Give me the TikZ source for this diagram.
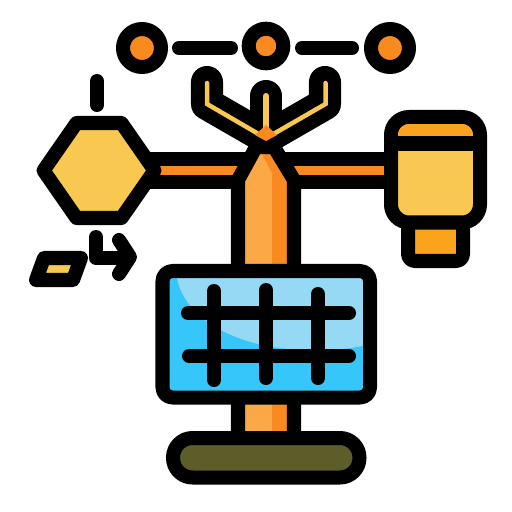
\documentclass[tikz,border=0pt]{standalone}
\definecolor{dorange}{HTML}{F98A1F}
\definecolor{lorange}{HTML}{FBA846}
\definecolor{morange}{HTML}{FBA31C}
\definecolor{yel}{HTML}{F8C850}
\definecolor{sky}{HTML}{36C6F9}
\definecolor{lsky}{HTML}{95D9F5}
\definecolor{olive}{HTML}{5D5D2A}
\tikzset{
  ink/.style={draw=black,line width=0.14cm,line join=round,line cap=round},
  prong/.style={draw=black,line width=0.32cm,line join=round,line cap=round},
  glow/.style={draw=yel,line width=0.045cm,line cap=round,line join=miter},
  dial/.style={ink,fill=dorange}
}
\begin{document}
\begin{tikzpicture}[x=0.01cm,y=-0.01cm]
\useasboundingbox (0,0) rectangle (512,512);
\fill[white] (0,0) rectangle (512,512);
% top circles and links
\draw[dial] (142,48) circle (0.19cm);
\draw[dial] (266,46) circle (0.173cm);
\draw[dial] (390,48) circle (0.19cm);
\draw[ink] (179,48) -- (231,48);
\draw[ink] (302,48) -- (352,48);
% dash above hexagon
\draw[ink] (97,81) -- (97,105);
% arm
\fill[dorange] (150,166) rectangle (395,175);
\draw[ink] (150,159) -- (395,159);
\draw[ink] (150,182) -- (395,182);
% pole
\fill[lorange] (238,440) -- (238,180) -- (256,147) -- (274,147) -- (294,180) -- (294,440) -- cycle;
\fill[dorange] (260,150) -- (272,173) -- (272,440) -- (294,440) -- (294,180) -- (274,147) -- cycle;
\draw[ink] (238,440) -- (238,180) -- (256,147) -- (274,147) -- (294,180) -- (294,440);
% fork
\draw[prong] (207,82) -- (207,104) -- (266,138) -- (325,104) -- (325,82);
\draw[prong] (266,96) -- (266,138);
\draw[glow] (207,83) -- (207,104) -- (262,136);
\draw[glow] (325.5,83) -- (325.5,104) -- (270,136);
\draw[glow,line width=0.06cm] (266,96) -- (266,130);
\fill[dorange] (266,125) -- (255,135) -- (266,141) -- (277,135) -- cycle;
% hexagon
\draw[ink,fill=yel] (43.5,170.5) -- (76.5,123) -- (121.5,123) -- (154.5,170.5) -- (121.5,218) -- (76.5,218) -- cycle;
% arrow
\draw[ink] (96,237) -- (96,258) -- (129,258);
\draw[ink] (119,240) -- (130,257) -- (119,274);
% parallelogram
\draw[ink,fill=yel] (44,258) -- (81,258) -- (73,280) -- (36,280) -- cycle;
% right sensor
\draw[ink,fill=morange,rounded corners=0.07cm] (408,215) rectangle (463,261);
\draw[ink,fill=yel,rounded corners=0.18cm] (391,117) rectangle (480,222.5);
\begin{scope}
  \clip (398,124) rectangle (473,143);
  \fill[morange,rounded corners=0.11cm] (398,124) rectangle (473,160);
\end{scope}
\draw[ink] (391,143.5) -- (480,143.5);
% panel
\fill[sky] (165,274) rectangle (366,394);
\begin{scope}
  \clip (165,274) rectangle (366,394);
  \fill[lsky] (177,274) -- (177,278) .. controls (185,320) and (240,350) .. (310,350) .. controls (335,350) and (350,349) .. (366,345) -- (366,274) -- cycle;
\end{scope}
\draw[ink,rounded corners=0.1cm] (162.5,271) rectangle (370,397.5);
\draw[ink] (188,313) -- (349,313);
\draw[ink] (189,356) -- (349,356);
\draw[ink] (214,291) -- (214,380);
\draw[ink] (266,290) -- (266,378);
\draw[ink] (318,294) -- (318,378);
% base
\draw[ink,fill=olive,rounded corners=0.195cm] (173,438) rectangle (359.5,477.5);
\end{tikzpicture}
\end{document}
